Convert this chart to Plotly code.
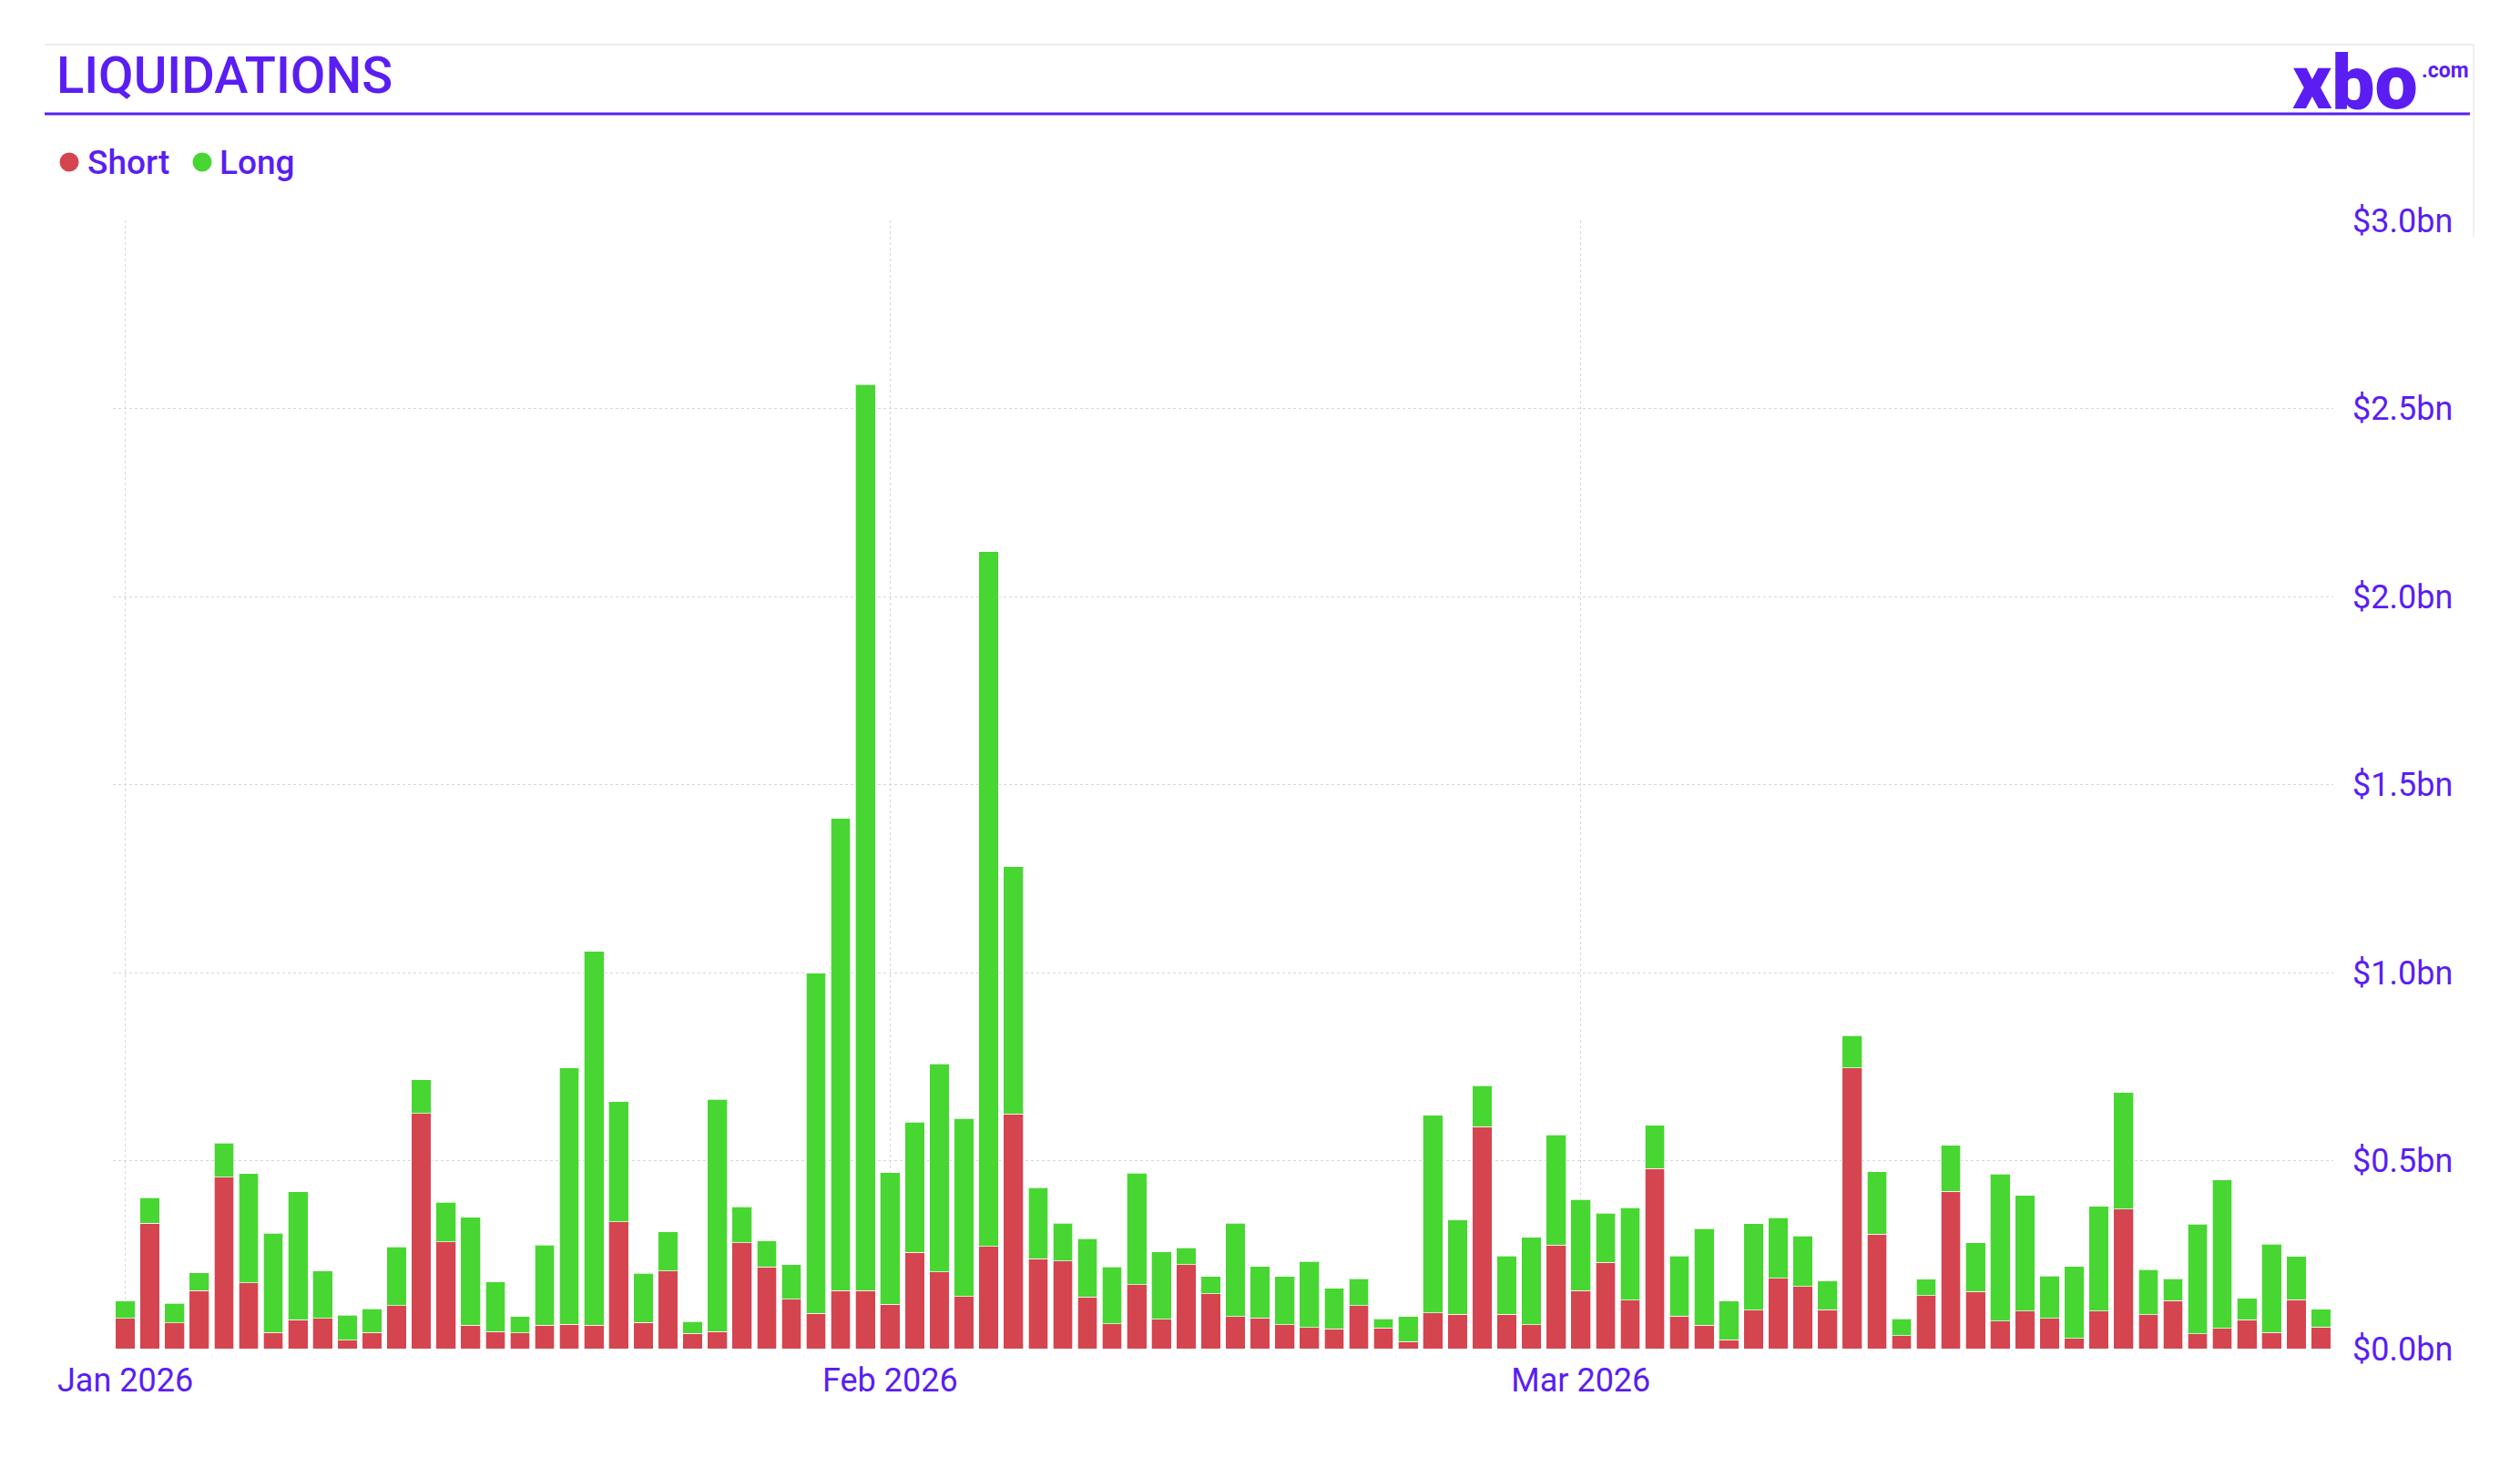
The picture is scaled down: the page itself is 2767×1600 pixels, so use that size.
import plotly.graph_objects as go
import pandas as pd

# Liquidazioni giornaliere (mld $)
PURPLE = "#5a1ef2"
RED = "#d44550"
GREEN = "#48d632"

dates = pd.date_range("2026-01-01", "2026-03-31", freq="D")

short_bn = [
    0.081, 0.333, 0.068, 0.155, 0.456, 0.175, 0.043, 0.077, 0.081, 0.022,
    0.043, 0.114, 0.626, 0.284, 0.062, 0.046, 0.042, 0.062, 0.065, 0.062,
    0.337, 0.070, 0.206, 0.040, 0.046, 0.282, 0.217, 0.131, 0.094, 0.155,
    0.155, 0.118, 0.256, 0.204, 0.139, 0.272, 0.624, 0.239, 0.233, 0.138,
    0.066, 0.170, 0.078, 0.223, 0.146, 0.085, 0.082, 0.063, 0.056, 0.053,
    0.114, 0.055, 0.019, 0.095, 0.092, 0.590, 0.092, 0.063, 0.276, 0.155,
    0.229, 0.129, 0.479, 0.086, 0.062, 0.024, 0.102, 0.187, 0.165, 0.103,
    0.746, 0.304, 0.034, 0.141, 0.418, 0.152, 0.073, 0.100, 0.081, 0.027,
    0.100, 0.371, 0.090, 0.128, 0.039, 0.054, 0.077, 0.043, 0.130, 0.057,
]

long_bn = [
    0.046, 0.069, 0.053, 0.047, 0.091, 0.290, 0.264, 0.340, 0.126, 0.067,
    0.063, 0.157, 0.089, 0.105, 0.287, 0.131, 0.043, 0.214, 0.682, 0.994,
    0.320, 0.131, 0.104, 0.032, 0.617, 0.095, 0.069, 0.092, 0.904, 1.255,
    2.409, 0.350, 0.346, 0.554, 0.473, 1.848, 0.658, 0.189, 0.100, 0.155,
    0.151, 0.297, 0.179, 0.045, 0.046, 0.248, 0.137, 0.129, 0.176, 0.107,
    0.072, 0.024, 0.066, 0.526, 0.250, 0.109, 0.155, 0.233, 0.292, 0.242,
    0.131, 0.246, 0.115, 0.161, 0.257, 0.103, 0.230, 0.161, 0.135, 0.077,
    0.086, 0.166, 0.045, 0.044, 0.123, 0.129, 0.391, 0.307, 0.112, 0.191,
    0.279, 0.310, 0.120, 0.058, 0.292, 0.395, 0.057, 0.235, 0.115, 0.048,
]

# Geometria (pixel della pagina); la pagina ha 8px di margine del body
OFF = 8
W, H = 2767, 1600
PLOT_L, PLOT_R, PLOT_T, PLOT_B = 124, 2562, 242, 1481
L, T = PLOT_L - OFF, PLOT_T - OFF
R, B = W - (PLOT_R - OFF), H - (PLOT_B - OFF)
PW, PH = PLOT_R - PLOT_L, PLOT_B - PLOT_T


def px_x(x):
    return (x - PLOT_L) / PW


def px_y(y):
    return (PLOT_B - y) / PH


fig = go.Figure()

fig.add_trace(go.Bar(
    x=dates, y=short_bn, name="Short",
    marker=dict(color=RED, line=dict(color="rgba(255,255,255,0.7)", width=1)),
    hovertemplate="%{x|%d %b %Y}<br>Short: $%{y:.2f}bn<extra></extra>"
))
fig.add_trace(go.Bar(
    x=dates, y=long_bn, name="Long",
    marker=dict(color=GREEN, line=dict(color="rgba(255,255,255,0.7)", width=1)),
    hovertemplate="%{x|%d %b %Y}<br>Long: $%{y:.2f}bn<extra></extra>"
))

fig.update_layout(
    width=W, height=H,
    margin=dict(l=L, r=R, t=T, b=B),
    paper_bgcolor="white", plot_bgcolor="white",
    font=dict(family="Roboto", color=PURPLE, size=36),
    barmode="stack", bargap=0.2,
    showlegend=False,
    xaxis=dict(
        type="date", range=["2025-12-31 12:00", "2026-03-31 12:00"],
        tick0="2026-01-01", dtick="M1", tickformat="%b %Y",
        showgrid=True, gridcolor="#d6d6d6", griddash="dot", gridwidth=1,
        zeroline=False, showline=False, ticks="", ticklabelstandoff=10,
        tickfont=dict(size=36, color=PURPLE)
    ),
    yaxis=dict(
        side="right", range=[0, 3.0005], dtick=0.5, tickformat=".1f",
        tickprefix="$", ticksuffix="bn",
        showgrid=True, gridcolor="#d6d6d6", griddash="dot", gridwidth=1,
        zeroline=False, showline=False, ticks="", ticklabelstandoff=20,
        tickfont=dict(size=36, color=PURPLE)
    ),
    hovermode="x unified",
)

# Legenda disegnata a mano (pallini grandi)
for name, col, cx, tx in [("Short", RED, 76, 96), ("Long", GREEN, 222, 241)]:
    fig.add_shape(type="circle", xref="paper", yref="paper",
                  xsizemode="pixel", ysizemode="pixel",
                  xanchor=px_x(cx), yanchor=px_y(178),
                  x0=-10.5, x1=10.5, y0=-10.5, y1=10.5,
                  fillcolor=col, line=dict(width=0))
    fig.add_annotation(
        text=name, xref="paper", yref="paper",
        x=px_x(tx), xanchor="left", y=px_y(179), yanchor="middle",
        showarrow=False, xshift=-2,
        font=dict(size=37, color=PURPLE, family="Roboto", weight=500)
    )

# Intestazione: titolo, logo, linee
fig.add_annotation(
    text="LIQUIDATIONS", xref="paper", yref="paper",
    x=px_x(60), xanchor="left", y=px_y(83), yanchor="middle",
    showarrow=False, font=dict(size=56, color=PURPLE, family="Roboto", weight=500)
)
fig.add_annotation(
    text="xbo", xref="paper", yref="paper",
    x=px_x(2657), xanchor="right", y=px_y(90), yanchor="middle",
    showarrow=False, font=dict(size=84, color=PURPLE, family="Roboto", weight=900)
)
fig.add_annotation(
    text=".com", xref="paper", yref="paper",
    x=px_x(2657), xanchor="left", y=px_y(78), yanchor="middle",
    showarrow=False, font=dict(size=23, color=PURPLE, family="Roboto", weight=700)
)

fig.add_shape(type="line", xref="paper", yref="paper",
              x0=px_x(49), x1=px_x(2712), y0=px_y(125), y1=px_y(125),
              line=dict(color=PURPLE, width=3))
fig.add_shape(type="line", xref="paper", yref="paper",
              x0=px_x(49), x1=px_x(2717), y0=px_y(49), y1=px_y(49),
              line=dict(color="#ececec", width=2))
fig.add_shape(type="line", xref="paper", yref="paper",
              x0=px_x(2716), x1=px_x(2716), y0=px_y(49), y1=px_y(260),
              line=dict(color="#f0f0f0", width=2))

fig.write_html("out.html")
